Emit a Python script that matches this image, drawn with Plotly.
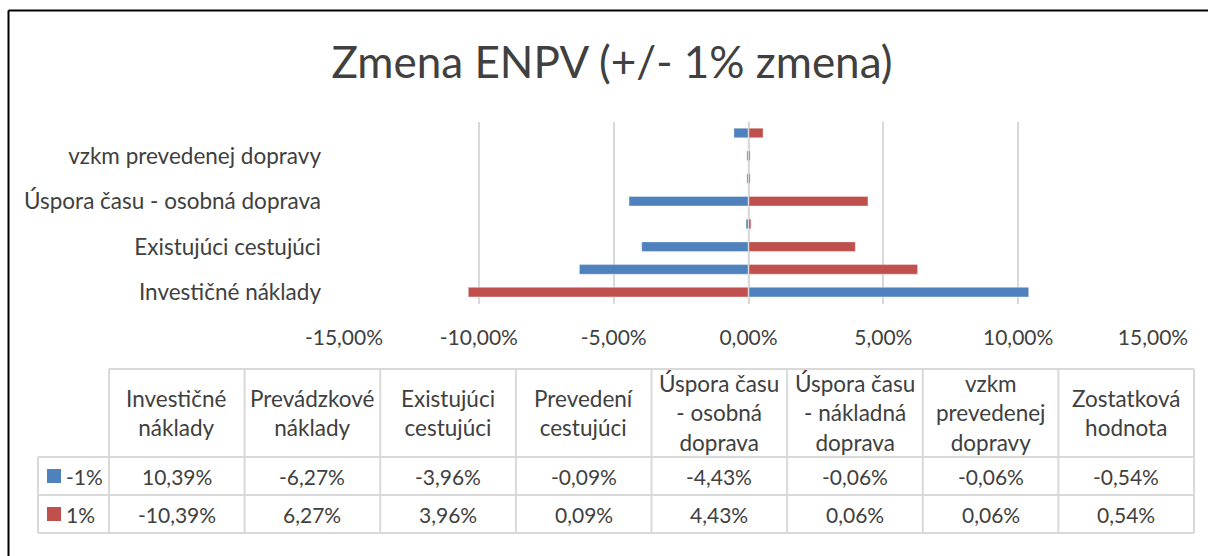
import textwrap
import plotly.graph_objects as go

# ---- data ----
categories = [
    "Investičné náklady",
    "Prevádzkové náklady",
    "Existujúci cestujúci",
    "Prevedení cestujúci",
    "Úspora času - osobná doprava",
    "Úspora času - nákladná doprava",
    "vzkm prevedenej dopravy",
    "Zostatková hodnota",
]
series_names = ["-1%", "1%"]
minus_1 = [10.39, -6.27, -3.96, -0.09, -4.43, -0.06, -0.06, -0.54]
plus_1 = [-10.39, 6.27, 3.96, 0.09, 4.43, 0.06, 0.06, 0.54]
x_ticks = [-15, -10, -5, 0, 5, 10, 15]
title_text = "Zmena ENPV (+/- 1% zmena)"

BLUE = "#4F81BD"
RED = "#C0504D"
TEXT = "#404040"
GRID = "#D9D9D9"
FONT = "Lato"
FS_NUM = 21
FS_TXT = 22.5
W, H = 1208, 556


def fmt(v):
    return f"{v:.2f}%".replace(".", ",")


def px_x(p):
    return p / W


def px_y(p):
    return 1 - p / H


fig = go.Figure()
for name, vals, col in [(series_names[0], minus_1, BLUE), (series_names[1], plus_1, RED)]:
    fig.add_trace(go.Bar(
        y=categories, x=vals, orientation="h", name=name, width=0.42,
        marker=dict(color=col, line=dict(color="rgba(255,255,255,0.35)", width=1)),
        showlegend=False,
    ))

fig.update_layout(
    width=W, height=H,
    margin=dict(l=0, r=0, t=0, b=0, pad=0),
    autosize=False,
    paper_bgcolor="white", plot_bgcolor="white",
    barmode="overlay",
    font=dict(family=FONT, color=TEXT, size=FS_NUM),
    title=dict(text=title_text, x=px_x(612), xanchor="center", y=px_y(63), yanchor="middle",
               yref="container", automargin=False,
               font=dict(family=FONT, size=44, color=TEXT)),
    xaxis=dict(
        domain=[px_x(344), px_x(1153)],
        range=[x_ticks[0], x_ticks[-1]],
        tickvals=x_ticks, ticktext=[fmt(v) for v in x_ticks],
        showgrid=True, gridcolor=GRID, gridwidth=1.5,
        zeroline=False, showline=False, ticks="",
        ticklabelstandoff=19, automargin=False,
        tickfont=dict(size=FS_NUM, color=TEXT),
        fixedrange=True,
    ),
    yaxis=dict(
        domain=[px_y(303.5), px_y(121.6)],
        type="category", categoryorder="array", categoryarray=categories,
        range=[-0.5, len(categories) - 0.5],
        tickvals=categories[::2], ticktext=categories[::2],
        showgrid=False, zeroline=False, showline=False, ticks="",
        ticklabelstandoff=22, automargin=False,
        tickfont=dict(size=FS_TXT, color=TEXT),
        fixedrange=True,
    ),
)

# zero reference line above bars
fig.add_shape(type="line", xref="x", yref="y domain", x0=0, x1=0, y0=0, y1=1,
              line=dict(color=GRID, width=1.5), layer="above")

# outer chart border (top and left)
fig.add_shape(type="line", xref="paper", yref="paper", x0=px_x(8.5), x1=1.0,
              y0=px_y(10.5), y1=px_y(10.5), line=dict(color="black", width=2))
fig.add_shape(type="line", xref="paper", yref="paper", x0=px_x(8.5), x1=px_x(8.5),
              y0=px_y(10.5), y1=0, line=dict(color="black", width=2))

# ---- data table ----
t_left, c_left, t_right = 38, 109, 1194
r_top, r_h1, r_h2, r_bot = 369, 457, 495, 533
n = len(categories)
col_w = (t_right - c_left) / n
tline = dict(color=GRID, width=2)

def hline(y, x0, x1):
    fig.add_shape(type="line", xref="paper", yref="paper", x0=px_x(x0), x1=px_x(x1),
                  y0=px_y(y), y1=px_y(y), line=tline)

def vline(x, y0, y1):
    fig.add_shape(type="line", xref="paper", yref="paper", x0=px_x(x), x1=px_x(x),
                  y0=px_y(y0), y1=px_y(y1), line=tline)

hline(r_top, c_left, t_right)
for yy in (r_h1, r_h2, r_bot):
    hline(yy, t_left, t_right)
vline(t_left, r_h1, r_bot)
for i in range(n + 1):
    vline(c_left + i * col_w, r_top, r_bot)

rows = [(series_names[0], minus_1, BLUE, (r_h1 + r_h2) / 2),
        (series_names[1], plus_1, RED, (r_h2 + r_bot) / 2)]

for i, cat in enumerate(categories):
    cx = c_left + (i + 0.5) * col_w
    fig.add_annotation(xref="paper", yref="paper", x=px_x(cx), y=px_y((r_top + r_h1) / 2),
                       text="<br>".join(textwrap.wrap(cat, 11)), showarrow=False,
                       xanchor="center", yanchor="middle", align="center",
                       font=dict(size=FS_TXT, color=TEXT, family=FONT))
    for name, vals, col, cy in rows:
        fig.add_annotation(xref="paper", yref="paper", x=px_x(cx), y=px_y(cy),
                           text=fmt(vals[i]), showarrow=False,
                           xanchor="center", yanchor="middle",
                           font=dict(size=FS_NUM, color=TEXT, family=FONT))

for name, vals, col, cy in rows:
    fig.add_shape(type="rect", xref="paper", yref="paper",
                  x0=px_x(47), x1=px_x(61), y0=px_y(cy + 7), y1=px_y(cy - 7),
                  fillcolor=col, line=dict(width=0))
    fig.add_annotation(xref="paper", yref="paper", x=px_x(64), y=px_y(cy),
                       text=name, showarrow=False, xanchor="left", yanchor="middle",
                       font=dict(size=FS_NUM, color=TEXT, family=FONT))

fig.write_html("out.html", config={"displayModeBar": False},
               post_script="document.body.style.margin='0';document.body.style.overflow='hidden';")
